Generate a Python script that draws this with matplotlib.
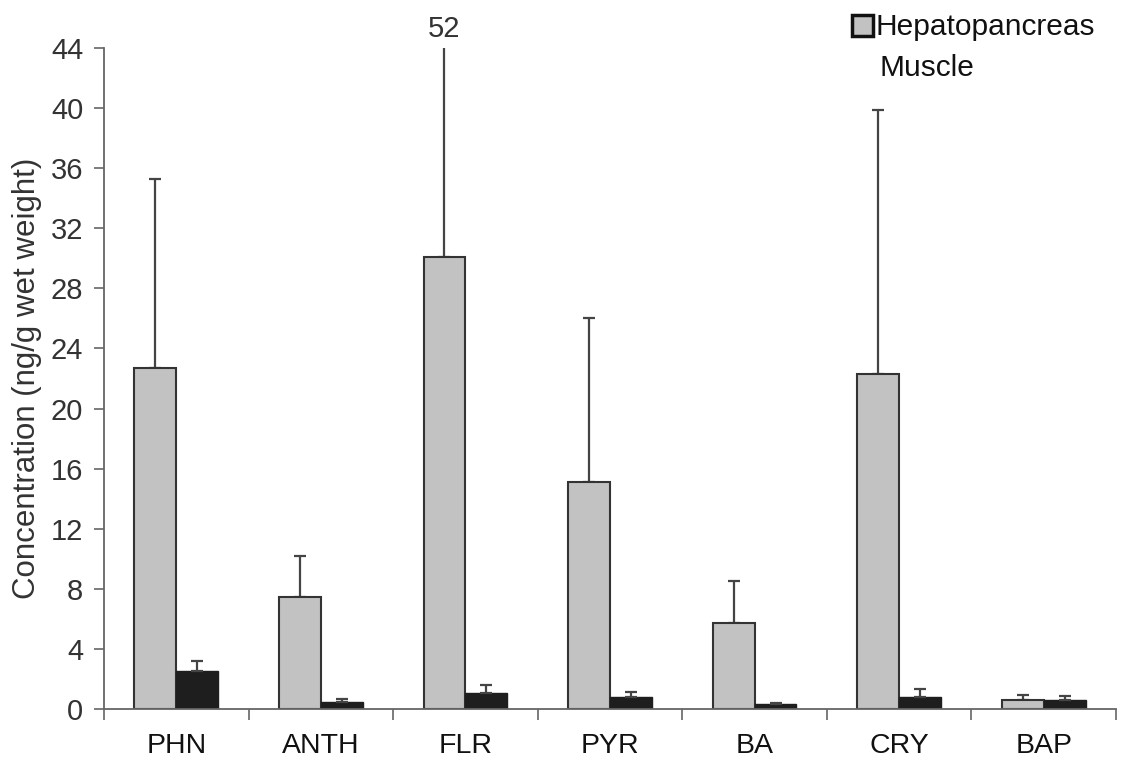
import matplotlib
matplotlib.use("Agg")
import matplotlib.pyplot as plt
from matplotlib.patches import Rectangle
import numpy as np

plt.rcParams['font.family'] = ['Liberation Sans', 'DejaVu Sans']

compounds = ["PHN", "ANTH", "FLR", "PYR", "BA", "CRY", "BAP"]
hepato = [22.7, 7.45, 30.1, 15.1, 5.7, 22.3, 0.6]
hepato_err = [12.6, 2.75, 21.9, 10.9, 2.8, 17.6, 0.33]
muscle = [2.52, 0.47, 1.06, 0.8, 0.33, 0.8, 0.6]
muscle_err = [0.68, 0.19, 0.54, 0.33, 0.07, 0.53, 0.27]
yticks = [0, 4, 8, 12, 16, 20, 24, 28, 32, 36, 40, 44]
flr_top_label = "52"

w = 0.29
x = np.arange(len(compounds))

fig = plt.figure(figsize=(11.21, 7.62), dpi=100)
ax = fig.add_axes([0.0928, 0.0696, 0.9027, 0.8674])

ax.bar(x - w / 2, hepato, w, color="#c2c2c2", edgecolor="#333333", linewidth=1.5, zorder=2)
ax.bar(x + w / 2, muscle, w, color="#1e1e1e", edgecolor="#1e1e1e", linewidth=1.0, zorder=2)

ax.errorbar(x - w / 2, hepato, yerr=[np.zeros(len(x)), hepato_err], fmt="none",
            ecolor="#444444", elinewidth=1.6, capsize=4, capthick=1.6, zorder=1)
ax.errorbar(x + w / 2, muscle, yerr=[np.zeros(len(x)), muscle_err], fmt="none",
            ecolor="#444444", elinewidth=1.6, capsize=4, capthick=1.6, zorder=3)

ax.text(x[2] - w / 2, 44.3, flr_top_label, ha="center", va="bottom", fontsize=21, color="#333333")

ax.set_xlim(-0.5, len(compounds) - 0.5)
ax.set_ylim(0, 44)
ax.set_yticks(yticks)
ax.tick_params(axis="y", labelsize=21, length=7, width=1.2, color="#666666", pad=8, labelcolor="#333333")

ax.set_xticks(x)
ax.set_xticklabels(compounds)
ax.tick_params(axis="x", which="major", length=0, labelsize=20.5, pad=17, labelcolor="#111111")
ax.set_xticks(np.arange(len(compounds) + 1) - 0.5, minor=True)
ax.tick_params(axis="x", which="minor", length=8, width=1.2, color="#666666")

for s in ["top", "right"]:
    ax.spines[s].set_visible(False)
for s in ["left", "bottom"]:
    ax.spines[s].set_color("#666666")
    ax.spines[s].set_linewidth(1.3)

ax.set_ylabel("Concentration (ng/g wet weight)", fontsize=22.5, color="#333333", labelpad=6)

# legend drawn by hand, as in the scan
fig.patches.append(Rectangle((852 / 1121, 1 - 36 / 762), 21 / 1121, 21 / 762,
                             transform=fig.transFigure, facecolor="#c2c2c2",
                             edgecolor="#111111", linewidth=2.5))
fig.text(876 / 1121, 1 - 27 / 762, "Hepatopancreas", fontsize=21.5, va="center", ha="left", color="#111111")
fig.text(879 / 1121, 1 - 68 / 762, "Muscle", fontsize=21.5, va="center", ha="left", color="#111111")

fig.savefig("out.png", dpi=100)
